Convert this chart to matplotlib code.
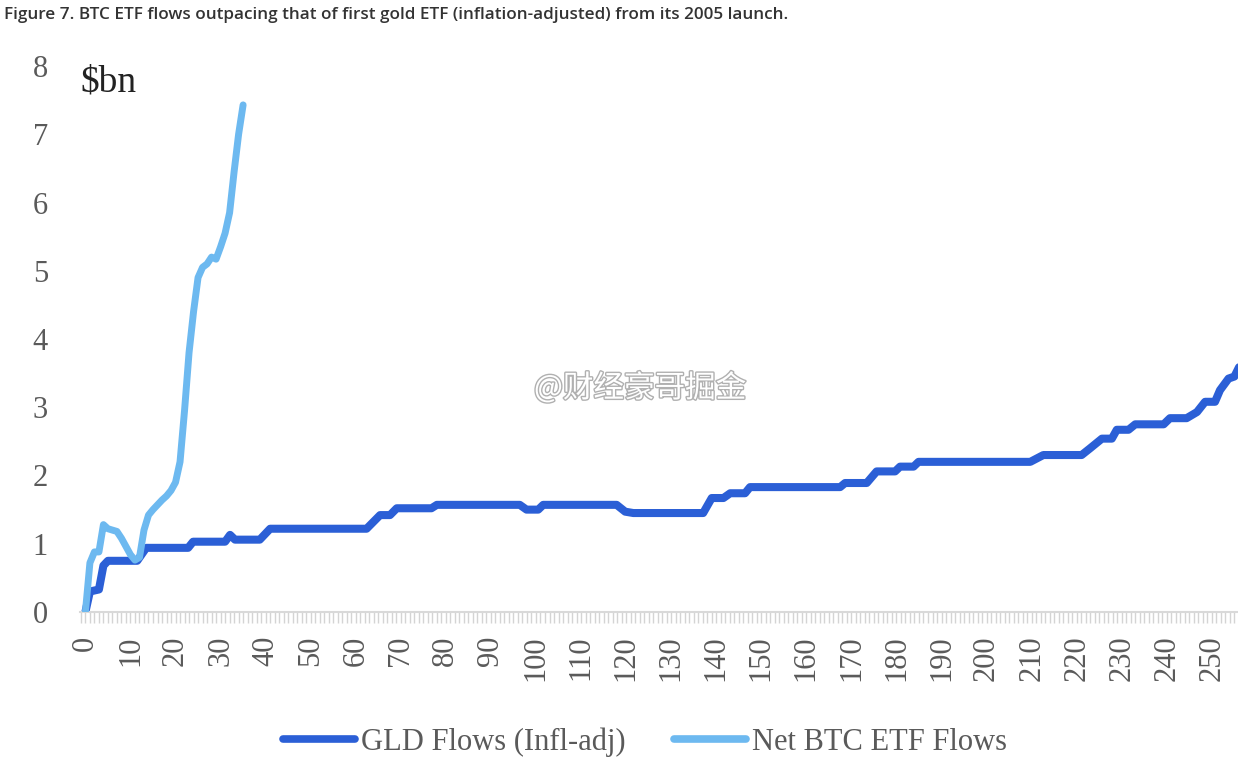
import matplotlib.pyplot as plt
import matplotlib.patheffects as pe
from matplotlib.ticker import MultipleLocator

# trading days since launch vs cumulative flows ($bn)
btc_days = list(range(0, 36))
btc_flows = [0.0, 0.72, 0.88, 0.88, 1.28, 1.22, 1.2, 1.18, 1.08, 0.96,
             0.84, 0.76, 0.8, 1.2, 1.42, 1.5, 1.57, 1.64, 1.7, 1.78,
             1.9, 2.2, 2.95, 3.8, 4.4, 4.9, 5.05, 5.1, 5.2, 5.17,
             5.35, 5.55, 5.85, 6.45, 7.0, 7.43]

# GLD flows (inflation adjusted), breakpoints of the step-like series
gld_days = [0, 1, 3, 4, 5, 11.5, 13.5, 22.8, 23.9, 31, 32.1, 33.2, 38.7, 41,
            62.4, 65.4, 67.6, 69.1, 76.8, 78, 96.4, 97.9, 100.5, 101.6,
            117.9, 119.8, 121.6, 137.1, 139, 141.6, 143.1, 146.4, 147.5,
            167.5, 168.6, 173.4, 175.6, 179.7, 180.8, 183.8, 184.9,
            209.7, 212.6, 221.1, 223, 225.6, 227.8, 228.9, 231.5, 233,
            239.3, 240.7, 244.4, 246.7, 248.5, 250.7, 251.8, 253.7, 255, 256.5]
gld_flows = [0, 0.3, 0.33, 0.68, 0.75, 0.75, 0.94, 0.94, 1.03, 1.03, 1.13, 1.06, 1.06, 1.22,
             1.22, 1.42, 1.42, 1.52, 1.52, 1.57, 1.57, 1.5, 1.5, 1.57,
             1.57, 1.47, 1.45, 1.45, 1.67, 1.67, 1.74, 1.74, 1.83,
             1.83, 1.89, 1.89, 2.06, 2.06, 2.13, 2.13, 2.2,
             2.2, 2.3, 2.3, 2.4, 2.54, 2.54, 2.67, 2.67, 2.75,
             2.75, 2.84, 2.84, 2.93, 3.08, 3.08, 3.25, 3.42, 3.45, 3.65]

gld_color = '#2b5fd6'
btc_color = '#6db9f0'
serif = 'Liberation Serif'
gray = '#5a5a5a'

fig = plt.figure(figsize=(12.38, 7.74), dpi=100)
ax = fig.add_axes([80 / 1238, 1 - 612 / 774, 1 - 80 / 1238, 546 / 774])

ax.plot(gld_days, gld_flows, color=gld_color, lw=5.8, solid_capstyle='round',
        solid_joinstyle='round', label='GLD Flows (Infl-adj)', zorder=2)
ax.plot(btc_days, btc_flows, color=btc_color, lw=5.0, solid_capstyle='round',
        solid_joinstyle='round', label='Net BTC ETF Flows', zorder=3)

ax.set_xlim(-1.2, 255.8)
ax.set_ylim(0, 8)

for s in ['top', 'right', 'left']:
    ax.spines[s].set_visible(False)
ax.spines['bottom'].set_color('#d9d9d9')
ax.spines['bottom'].set_linewidth(1.5)

ax.xaxis.set_major_locator(MultipleLocator(10))
ax.xaxis.set_minor_locator(MultipleLocator(1))
ax.tick_params(axis='x', which='both', length=8, width=1, color='#d4d4d4',
               direction='out')
ax.tick_params(axis='x', which='major', pad=9, labelsize=22, labelcolor=gray,
               labelrotation=90)
ax.tick_params(axis='y', length=0, pad=23, labelsize=22, labelcolor=gray)
ax.set_yticks(range(0, 9))
for lab in ax.get_xticklabels() + ax.get_yticklabels():
    lab.set_family(serif)

fig.text(80 / 1238, 1 - 92 / 774, '$bn', family=serif, fontsize=27,
         color='#222222', va='baseline', ha='left')

fig.text(4 / 1238, 1 - 15 / 774,
         'Figure 7. BTC ETF flows outpacing that of first gold ETF '
         '(inflation-adjusted) from its 2005 launch.',
         family='Open Sans', fontweight='semibold', fontsize=12.3,
         color='#333333', va='center', ha='left')

# watermark of the repost
fig.text(640 / 1238, 1 - 388 / 774, '@财经豪哥掘金',
         family=['Noto Sans CJK SC', 'DejaVu Sans'], fontsize=22,
         color='white', ha='center', va='center', zorder=5,
         path_effects=[pe.withStroke(linewidth=2, foreground='#b0b0b0')])

leg = fig.legend(loc='center', bbox_to_anchor=(645 / 1238, 1 - 742 / 774), ncol=2,
                 frameon=False, handlelength=2.35, handletextpad=0.2,
                 columnspacing=1.6, prop={'family': serif, 'size': 22})
for t in leg.get_texts():
    t.set_color(gray)
for h in leg.get_lines():
    h.set_linewidth(5.5)

fig.savefig('out.png', dpi=100)
